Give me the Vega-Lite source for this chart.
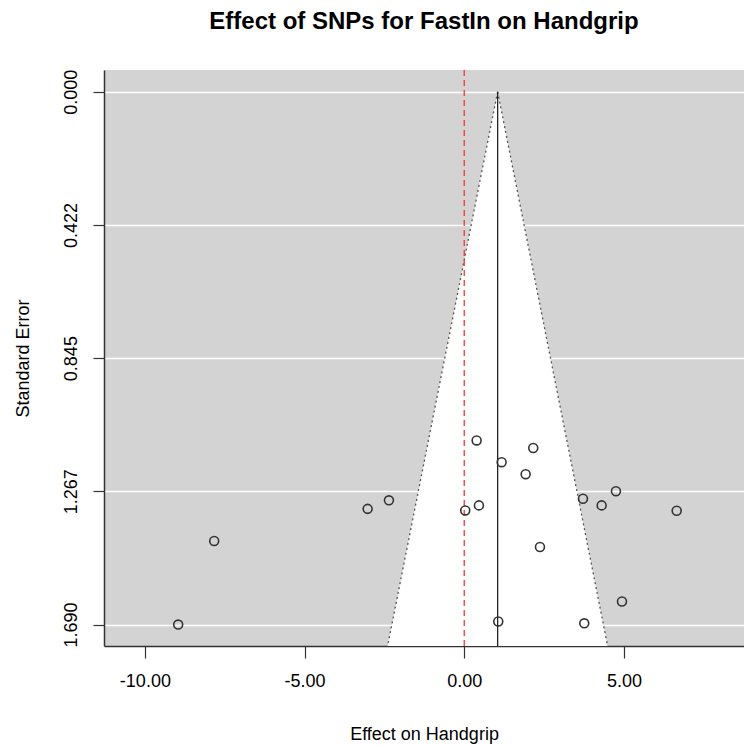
{
  "$schema": "https://vega.github.io/schema/vega-lite/v6.json",
  "width": 640,
  "height": 576,
  "autosize": {"type": "none"},
  "padding": {"left": 104, "top": 70, "right": 0, "bottom": 99},
  "background": "white",
  "title": {
    "text": "Effect of SNPs for FastIn on Handgrip",
    "font": "Liberation Sans",
    "fontSize": 24,
    "fontWeight": "bold",
    "color": "black",
    "anchor": "middle",
    "baseline": "alphabetic",
    "offset": 16
  },
  "config": {
    "view": {"fill": "#d3d3d3", "stroke": null},
    "locale": {"number": {"decimal": ".", "thousands": ",", "grouping": [3], "currency": ["$", ""], "minus": "-"}},
    "axis": {
      "labelFont": "Liberation Sans",
      "titleFont": "Liberation Sans",
      "labelColor": "black",
      "titleColor": "black",
      "titleFontWeight": "normal",
      "labelFontSize": 18,
      "titleFontSize": 18,
      "domainColor": "#333333",
      "domainWidth": 1.5,
      "tickColor": "#333333",
      "tickWidth": 1.2
    }
  },
  "datasets": {
    "points": [
      {"effect": 0.388, "se": 1.106},
      {"effect": 1.171, "se": 1.175},
      {"effect": -2.358, "se": 1.296},
      {"effect": -3.025, "se": 1.323},
      {"effect": 0.031, "se": 1.328},
      {"effect": 0.46, "se": 1.312},
      {"effect": 2.161, "se": 1.13},
      {"effect": 1.923, "se": 1.213},
      {"effect": 4.751, "se": 1.267},
      {"effect": 3.718, "se": 1.291},
      {"effect": 4.303, "se": 1.312},
      {"effect": 6.652, "se": 1.329},
      {"effect": 2.371, "se": 1.444},
      {"effect": 4.939, "se": 1.617},
      {"effect": 3.758, "se": 1.686},
      {"effect": 1.065, "se": 1.68},
      {"effect": -7.83, "se": 1.425},
      {"effect": -8.957, "se": 1.69}
    ],
    "funnel": [
      {"se": 0, "lo": 1.046, "hi": 1.046},
      {"se": 1.758, "lo": -2.4, "hi": 4.49}
    ],
    "edges": [
      {"x1": 1.046, "y1": 0, "x2": -2.4, "y2": 1.758},
      {"x1": 1.046, "y1": 0, "x2": 4.49, "y2": 1.758}
    ],
    "center": [{"x": 1.046, "y1": 0, "y2": 1.758}],
    "zero": [{"x": 0}]
  },
  "layer": [
    {
      "data": {"name": "funnel"},
      "mark": {"type": "area", "orient": "horizontal", "fill": "white", "stroke": null},
      "encoding": {
        "y": {
          "field": "se", "type": "quantitative",
          "scale": {"domain": [-0.069, 1.758], "reverse": true, "nice": false, "zero": false},
          "axis": {
            "title": "Standard Error",
            "values": [0, 0.42248, 0.84495, 1.26743, 1.6899],
            "format": ".3f",
            "grid": true,
            "gridColor": "white",
            "gridWidth": 1.5,
            "gridOpacity": 1,
            "tickSize": 11,
            "labelAngle": -90,
            "labelAlign": "center",
            "labelBaseline": "alphabetic",
            "labelPadding": 17,
            "titlePadding": 30
          }
        },
        "x": {
          "field": "lo", "type": "quantitative",
          "scale": {"domain": [-11.28, 8.76], "nice": false, "zero": false},
          "axis": {
            "title": "Effect on Handgrip",
            "values": [-10, -5, 0, 5],
            "format": ".2f",
            "grid": false,
            "tickSize": 12,
            "labelPadding": 14,
            "titlePadding": 35
          }
        },
        "x2": {"field": "hi"}
      }
    },
    {
      "data": {"name": "edges"},
      "mark": {"type": "rule", "color": "#555555", "strokeDash": [2, 3], "strokeWidth": 1.3},
      "encoding": {
        "x": {"field": "x1", "type": "quantitative"},
        "x2": {"field": "x2"},
        "y": {"field": "y1", "type": "quantitative"},
        "y2": {"field": "y2"}
      }
    },
    {
      "data": {"name": "center"},
      "mark": {"type": "rule", "color": "#222222", "strokeWidth": 1.3},
      "encoding": {
        "x": {"field": "x", "type": "quantitative"},
        "y": {"field": "y1", "type": "quantitative"},
        "y2": {"field": "y2"}
      }
    },
    {
      "data": {"name": "zero"},
      "mark": {"type": "rule", "color": "#ff3333", "strokeDash": [6, 4], "strokeWidth": 1.3},
      "encoding": {
        "x": {"field": "x", "type": "quantitative"}
      }
    },
    {
      "data": {"name": "points"},
      "mark": {"type": "point", "shape": "circle", "filled": false, "stroke": "#333333", "strokeWidth": 1.6, "size": 80, "opacity": 1},
      "encoding": {
        "x": {"field": "effect", "type": "quantitative"},
        "y": {"field": "se", "type": "quantitative"}
      }
    }
  ]
}
